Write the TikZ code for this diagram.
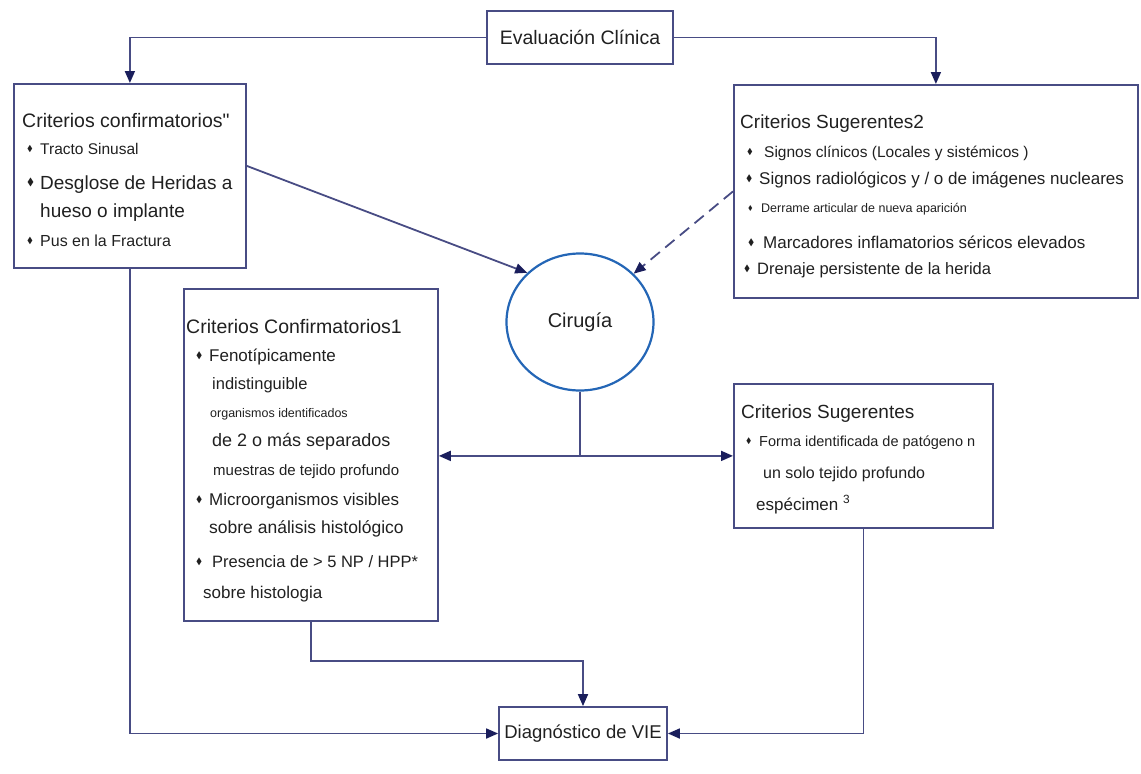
\documentclass[tikz,border=0pt]{standalone}
\usepackage{fontspec}
\setmainfont{Liberation Sans}
\usepackage{amssymb}
\usetikzlibrary{arrows.meta,shapes.geometric}

\definecolor{linea}{RGB}{72,76,132}
\definecolor{flecha}{RGB}{26,30,92}
\definecolor{circulo}{RGB}{36,102,182}
\definecolor{texto}{RGB}{32,32,32}

\newcommand{\fs}[1]{\fontsize{#1}{#1}\selectfont}
\newcommand{\bul}{\makebox[13pt][l]{\raisebox{.3ex}{\scalebox{.55}{$\blacklozenge$}}}}

\begin{document}
\begin{tikzpicture}[x=1pt,y=-1pt,
	caja/.style={draw=linea, line width=1.8pt, rectangle, inner sep=0pt},
	txt/.style={anchor=base west, inner sep=0pt, text=texto},
	con/.style={draw=linea, line width=1.8pt},
	flecha/.style={-{Triangle[length=12pt,width=10pt,color=flecha]}}]
		
		\useasboundingbox (0,0) rectangle (1141,774);
		
		% Cajas
		\node[caja, minimum width=186pt, minimum height=53pt, font=\fs{19.5}, text=texto] (eval) at (580,37.5) {Evaluación Clínica};
		\node[caja, anchor=north west, minimum width=232pt, minimum height=184pt] (conf) at (13,83) {};
		\node[caja, anchor=north west, minimum width=404pt, minimum height=213pt] (sug2) at (733,84) {};
		\node[caja, anchor=north west, minimum width=254pt, minimum height=332pt] (conf1) at (183,288) {};
		\node[caja, anchor=north west, minimum width=259pt, minimum height=144pt] (sug) at (733,383) {};
		\node[caja, minimum width=168pt, minimum height=53pt, font=\fs{18.5}, text=texto] (diag) at (583,733.5) {Diagnóstico de VIE};
		\node[ellipse, draw=circulo, line width=2.2pt, minimum width=147pt, minimum height=137pt, inner sep=0pt, font=\fs{20}, text=texto] (cir) at (580,322) {Cirugía};
		
		% Texto de Criterios confirmatorios
		\foreach \x/\y/\s/\t [count=\i] in {22/127/19.5/{Criterios confirmatorios\textquotedbl},
			27/154/15.5/{\bul Tracto Sinusal},
			27/189/19/{\bul Desglose de Heridas a},
			40/217/19/{hueso o implante},
			27/246/16/{\bul Pus en la Fractura}} {
			\node[txt, font=\fs{\s}] (conf-t\i) at (\x,\y) {\t};
		}
		
		% Texto de Criterios Sugerentes2
		\foreach \x/\y/\s/\t [count=\i] in {740/128/19/{Criterios Sugerentes2},
			747/157/15.5/{\bul\hspace{4pt}Signos clínicos (Locales y sistémicos )},
			746/184/17/{\bul Signos radiológicos y / o de imágenes nucleares},
			748/212/12.5/{\bul Derrame articular de nueva aparición},
			748/248/17/{\bul\hspace{2pt}Marcadores inflamatorios séricos elevados},
			744/274/16.5/{\bul Drenaje persistente de la herida}} {
			\node[txt, font=\fs{\s}] (sug2-t\i) at (\x,\y) {\t};
		}
		
		% Texto de Criterios Confirmatorios1
		\foreach \x/\y/\s/\t [count=\i] in {186/333/19.5/{Criterios Confirmatorios1},
			196/361/17/{\bul Fenotípicamente},
			212/389/16.5/{indistinguible},
			210/417/12.5/{organismos identificados},
			212/446/18/{de 2 o más separados},
			213/475/15/{muestras de tejido profundo},
			196/505/17/{\bul Microorganismos visibles},
			209/533/17.5/{sobre análisis histológico},
			196/567/16.5/{\bul\hspace{3pt}Presencia de > 5 NP / HPP*},
			203/598/17/{sobre histologia}} {
			\node[txt, font=\fs{\s}] (conf1-t\i) at (\x,\y) {\t};
		}
		
		% Texto de Criterios Sugerentes
		\foreach \x/\y/\s/\t [count=\i] in {741/418/19/{Criterios Sugerentes},
			746/446/14.5/{\bul Forma identificada de patógeno n},
			763/478/16/{un solo tejido profundo},
			756/510/17/{espécimen \textsuperscript{3}}} {
			\node[txt, font=\fs{\s}] (sug-t\i) at (\x,\y) {\t};
		}
		
		% Conectores
		\draw[con, flecha] (eval.west) -| (conf.north);
		\draw[con, flecha] (eval.east) -| (sug2.north);
		\draw[con, flecha] ([yshift=10pt]conf.east) -- (cir.137);
		\draw[con, flecha, dash pattern=on 12pt off 7pt] (sug2.west) -- (cir.42);
		\coordinate (nudo) at (cir.south |- sug.west);
		\draw[con] (cir.south) -- (nudo);
		\draw[con, flecha] (nudo) -- (nudo -| conf1.east);
		\draw[con, flecha] (nudo) -- (sug.west);
		\draw[con, flecha] (conf1.south) -- ++(0,39) -| (diag.north);
		\draw[con, flecha] (conf.south) |- (diag.west);
		\draw[con, flecha] (sug.south) |- (diag.east);
		
\end{tikzpicture}
\end{document}
